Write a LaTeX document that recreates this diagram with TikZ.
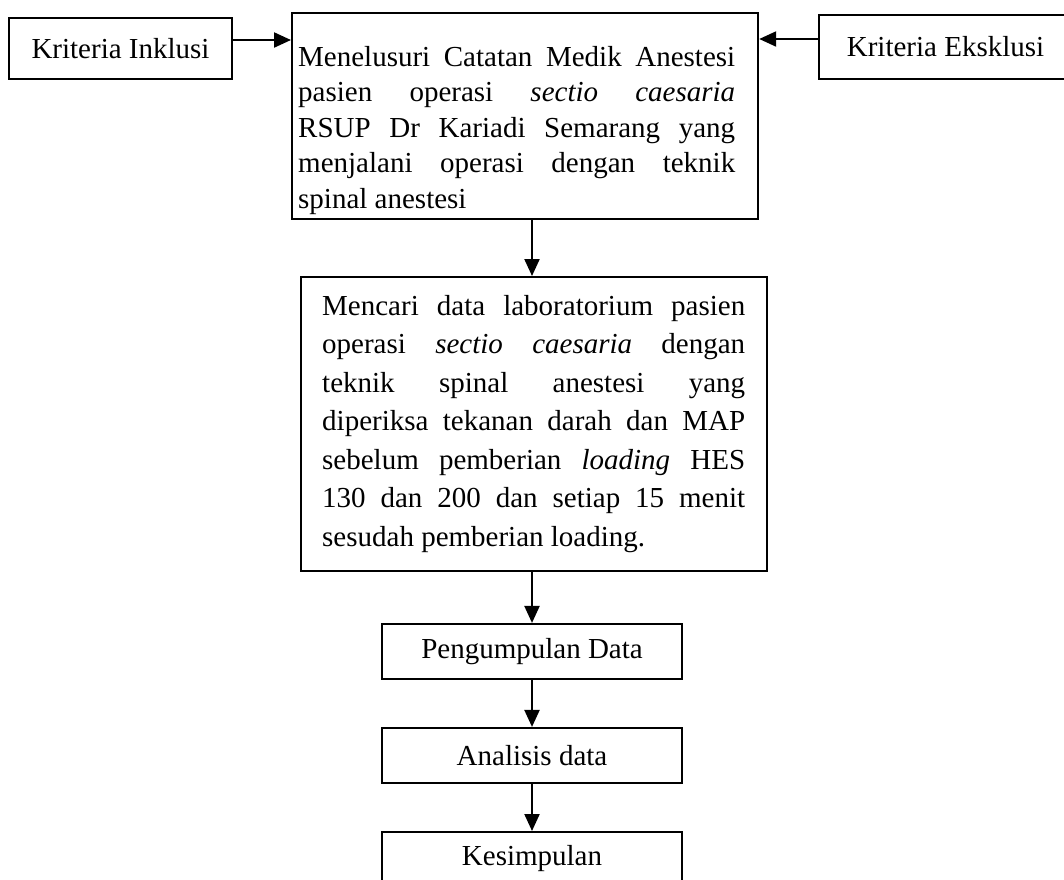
\documentclass[tikz,border=0pt]{standalone}
\usepackage{fontspec}
\setmainfont{Liberation Serif}
\usetikzlibrary{arrows.meta}
\begin{document}
\begin{tikzpicture}[x=1pt,y=-1pt,
  box/.style={draw, line width=2.2pt, inner sep=0pt, font=\fontsize{29}{35}\selectfont},
  lbl/.style={inner sep=0pt, font=\fontsize{29}{35}\selectfont},
  arr/.style={line width=2.2pt, -{Triangle[length=17pt,width=15pt]}},
  txt/.style={inner sep=0pt, align=justify, anchor=north west}]
\useasboundingbox (0,0) rectangle (1064,879);
\clip (0,0) rectangle (1064,879);
% side boxes
\node[box, minimum width=223pt, minimum height=61pt] (inkl) at (120.5,48.5) {Kriteria Inklusi};
\node[box, anchor=west, minimum width=320pt, minimum height=64pt] (eks) at (818,47) {};
\node[lbl] (ekst) at (945.5,47) {Kriteria Eksklusi};
% box 1
\node[box, anchor=north west, minimum width=466pt, minimum height=206pt] (b1) at (291,12) {};
\node[txt, text width=437pt, font=\fontsize{29}{35.5}\selectfont] (t1) at (298,46)
 {Menelusuri Catatan Medik Anestesi\linebreak
  pasien operasi \textit{sectio caesaria}\linebreak
  RSUP Dr Kariadi Semarang yang\linebreak
  menjalani operasi dengan teknik\linebreak
  spinal anestesi};
% box 2
\node[box, anchor=north west, minimum width=466pt, minimum height=294pt] (b2) at (300,276) {};
\node[txt, text width=423pt, font=\fontsize{29}{38.5}\selectfont] (t2) at (322,295)
 {Mencari data laboratorium pasien\linebreak
  operasi \textit{sectio caesaria} dengan\linebreak
  teknik spinal anestesi yang\linebreak
  diperiksa tekanan darah dan MAP\linebreak
  sebelum pemberian \textit{loading} HES\linebreak
  130 dan 200 dan setiap 15 menit\linebreak
  sesudah pemberian loading.};
% lower boxes
\node[box, minimum width=300pt, minimum height=55pt] (peng) at (532,651.5) {Pengumpulan Data};
\node[box, minimum width=300pt, minimum height=55pt] (anal) at (532,755.5) {Analisis data};
\node[box, anchor=north, minimum width=300pt, minimum height=100pt] (kes) at (532,831) {};
\node[lbl] (kest) at (532,858.5) {Kesimpulan};
% connectors
\draw[arr] (inkl.east |- 0,40) -- (b1.west |- 0,40);
\draw[arr] (eks.west |- 0,39) -- (b1.east |- 0,39);
\draw[arr] (peng.north |- b1.south) -- (peng.north |- b2.north);
\draw[arr] (peng.north |- b2.south) -- (peng.north);
\draw[arr] (peng.south) -- (anal.north);
\draw[arr] (anal.south) -- (kes.north);
\end{tikzpicture}
\end{document}
